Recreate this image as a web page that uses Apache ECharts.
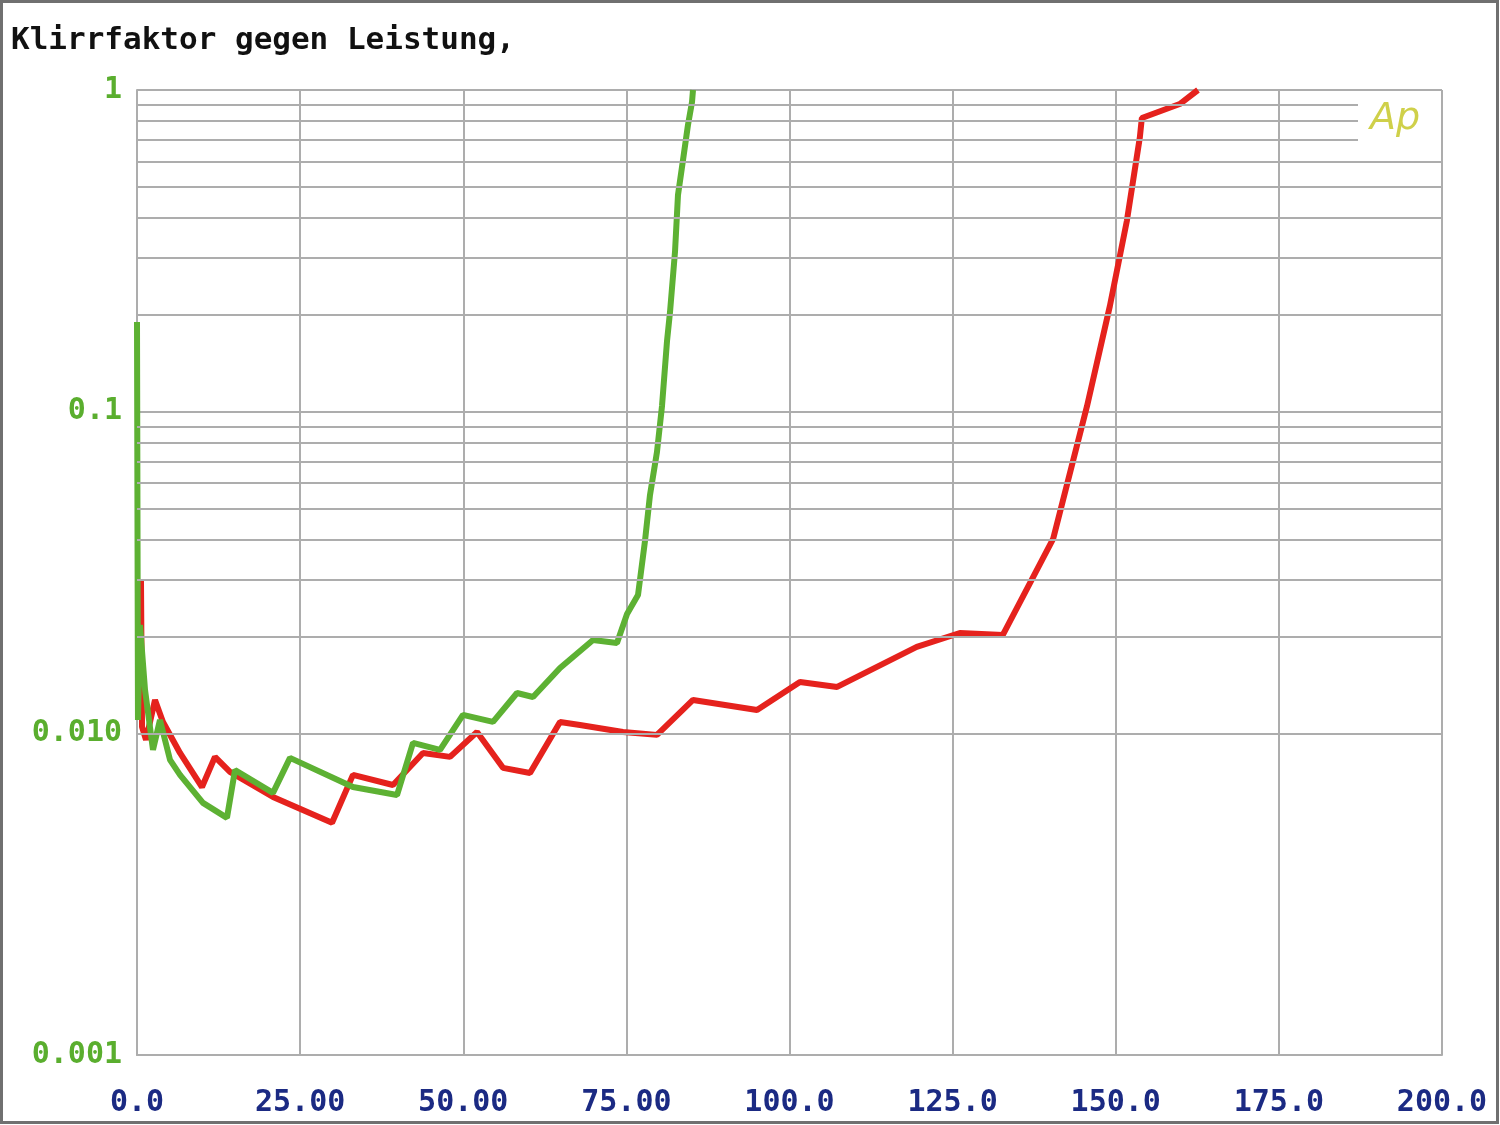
<!DOCTYPE html>
<html>
<head>
<meta charset="utf-8">
<script src="https://cdn.jsdelivr.net/npm/echarts@6/dist/echarts.min.js"></script>
<style>
html,body{margin:0;padding:0;background:#fff;}
#c{width:1500px;height:1125px;}
</style>
</head>
<body>
<div id="c"></div>
<script>
var titleText = 'Klirrfaktor gegen Leistung,';
var xTickLabels = ['0.0','25.00','50.00','75.00','100.0','125.0','150.0','175.0','200.0'];
var yTickValues = [0.001, 0.01, 0.1, 1];
var yTickLabels = ['0.001', '0.010', '0.1', '1'];
var minorGridValues = [0.002,0.003,0.004,0.005,0.006,0.007,0.008,0.009,
                       0.02,0.03,0.04,0.05,0.06,0.07,0.08,0.09,
                       0.2,0.3,0.4,0.5,0.6,0.7,0.8,0.9];

var redX = [0.61,0.77,1.38,2.76,3.98,6.59,9.96,11.95,14.25,20.84,29.89,33.10,39.23,43.83,47.97,52.11,56.09,60.23,64.83,67.89,74.48,79.69,85.21,95.02,101.6,107.3,119.5,126.1,132.7,140.4,145.6,149.1,151.7,153.7,154.0,159.8,162.6];
var redY = [0.0300,0.01047,0.00954,0.01270,0.01085,0.00869,0.00681,0.00845,0.00759,0.00634,0.00527,0.00743,0.00691,0.00869,0.00845,0.01010,0.00781,0.00753,0.01085,0.01062,0.01010,0.00989,0.01270,0.01182,0.01445,0.01394,0.01856,0.02051,0.02022,0.04021,0.1041,0.2131,0.3915,0.7143,0.8184,0.9046,1.0];

var greenX = [0,0.15,0.46,1.23,2.45,3.52,5.06,6.59,10.11,13.79,15.02,20.84,23.45,33.10,39.85,42.30,46.44,49.96,54.56,58.24,60.69,64.83,69.89,73.56,75.10,76.78,77.85,78.62,79.69,80.46,81.23,81.69,82.45,82.91,83.68,84.44,85.06,85.21];
var greenY = [0.190,0.0110,0.0217,0.01364,0.00888,0.0110,0.00827,0.00743,0.00608,0.00546,0.00769,0.00653,0.00839,0.00681,0.00643,0.00934,0.00888,0.01141,0.01085,0.01335,0.01297,0.01597,0.01951,0.01910,0.0235,0.0269,0.0396,0.0551,0.0749,0.1041,0.1659,0.2042,0.3135,0.4716,0.6059,0.7786,0.9177,1.0];

function zip(a, b) { return a.map(function (v, i) { return [v, b[i]]; }); }

var FONT = '"DejaVu Sans Mono", "Liberation Mono", monospace';
var GRID = '#adadad';

var chart = echarts.init(document.getElementById('c'), null, {renderer: 'canvas'});
chart.setOption({
  animation: false,
  backgroundColor: '#fff',
  title: {
    text: titleText, left: 6, top: 20,
    textStyle: {fontFamily: FONT, fontSize: 31, fontWeight: 'bold', color: '#111'}
  },
  grid: {left: 137, right: 58, top: 90, bottom: 70, show: false},
  xAxis: {
    type: 'value', min: 0, max: 200, interval: 25,
    axisLine: {show: true, lineStyle: {color: GRID, width: 2}},
    axisTick: {show: false},
    splitLine: {show: true, lineStyle: {color: GRID, width: 2}},
    axisLabel: {
      margin: 33, color: '#1b2a83', fontFamily: FONT, fontSize: 30, fontWeight: 'bold',
      showMinLabel: true, showMaxLabel: true,
      formatter: function (v) { return xTickLabels[Math.round(v / 25)]; }
    }
  },
  yAxis: {
    type: 'log', logBase: 10, min: 0.001, max: 1,
    axisLine: {show: true, lineStyle: {color: GRID, width: 2}},
    axisTick: {show: false},
    splitLine: {show: true, lineStyle: {color: GRID, width: 2}},
    axisLabel: {
      margin: 15, color: '#5aae2e', fontFamily: FONT, fontSize: 30, fontWeight: 'bold',
      formatter: function (v) {
        for (var i = 0; i < yTickValues.length; i++) {
          if (Math.abs(Math.log10(v) - Math.log10(yTickValues[i])) < 1e-6) return yTickLabels[i];
        }
        return '';
      }
    }
  },
  series: [
    {
      type: 'line', data: [], z: 1, silent: true,
      markLine: {
        silent: true, symbol: 'none', animation: false,
        label: {show: false},
        lineStyle: {color: GRID, width: 2, type: 'solid'},
        data: minorGridValues.map(function (v) { return {yAxis: v}; })
      }
    },
    {
      name: 'red', type: 'line', data: zip(redX, redY), z: 3,
      showSymbol: false, symbol: 'none',
      lineStyle: {color: '#e5221d', width: 6}, itemStyle: {color: '#e5221d'}
    },
    {
      name: 'green', type: 'line', data: zip(greenX, greenY), z: 4,
      showSymbol: false, symbol: 'none',
      lineStyle: {color: '#5db133', width: 6}, itemStyle: {color: '#5db133'}
    }
  ],
  graphic: [
    {type: 'rect', z: 50, shape: {x: 1358, y: 95, width: 83, height: 56}, style: {fill: '#fff'}},
    {type: 'text', z: 51, left: 1370, top: 100,
     style: {text: 'Ap', fill: '#cfd04a', font: 'italic 38px "DejaVu Sans", sans-serif'}},
    {type: 'rect', z: 60, shape: {x: 1.5, y: 1.5, width: 1496, height: 1121},
     style: {fill: 'none', stroke: '#707070', lineWidth: 3}}
  ]
});
</script>
</body>
</html>
